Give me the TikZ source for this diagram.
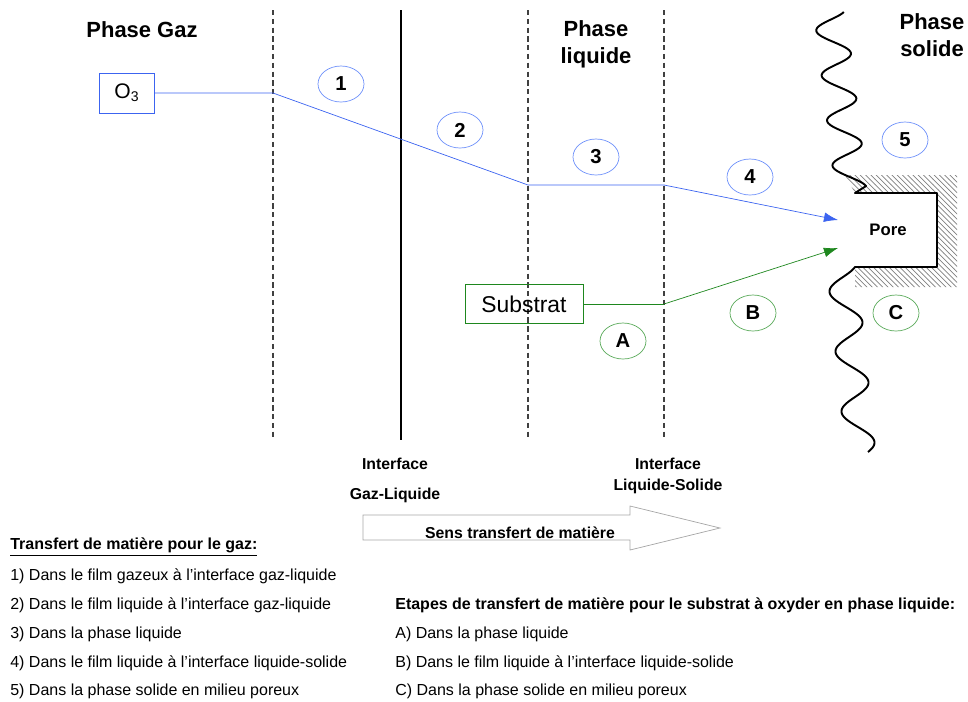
\documentclass[tikz,border=0pt]{standalone}
\usepackage{fontspec}
\setmainfont{Liberation Sans}
\usetikzlibrary{arrows.meta,shapes.geometric,patterns}
\definecolor{bleu}{RGB}{60,100,240}
\definecolor{bleuclair}{RGB}{110,145,250}
\definecolor{vert}{RGB}{30,135,30}
\definecolor{vertclair}{RGB}{90,170,90}

\begin{document}
\begin{tikzpicture}[x=0.02cm,y=-0.02cm,
    titre/.style={font=\fontsize{12.5}{15.5}\selectfont\bfseries, align=center},
    interf/.style={font=\fontsize{9}{12}\selectfont\bfseries, align=center},
    bulle/.style={ellipse, draw, minimum width=0.92cm, minimum height=0.72cm, inner sep=0pt,
      font=\fontsize{11.5}{12}\selectfont\bfseries},
    bullegaz/.style={bulle, draw=bleuclair},
    bullesub/.style={bulle, draw=vertclair},
    film/.style={black!75, dash pattern=on 3pt off 2pt, line width=0.6pt},
    legende/.style={anchor=west, font=\fontsize{9.1}{10}\selectfont, inner sep=0pt},
    fleche/.style={-{Latex[length=8pt,width=5.5pt]}}]
  \useasboundingbox (0,0) rectangle (968,701);

  % phases
  \node[titre] (gaz) at (142,30) {Phase Gaz};
  \node[titre] (liquide) at (596,44) {Phase\\liquide};
  \node[titre] (solide) at (932,35) {Phase\\solide};

  % films et interface
  \draw[film] (273,10) -- (273,440);
  \draw[film] (528,10) -- (528,440);
  \draw[film] (664,10) -- (664,440);
  \draw[black, line width=1.2pt] (401,10) -- (401,440);

  % pore et phase solide
  \fill[pattern=north west lines, pattern color=gray]
    (845,175) -- (957,175) -- (957,287) -- (855,287) -- (855,267) -- (937,267)
    -- (937,193) -- (855,193) -- cycle;
  \draw[black, line width=1.1pt, line join=round]
    plot[domain=12:186, samples=120, smooth] ({830+0.12*(\x-12)+16*sin(8*(\x-12)+120)}, {\x})
    -- (855,193) -- (937,193) -- (937,267) -- (855,267)
    -- plot[domain=267:452, samples=120, smooth] ({842+0.1*(\x-267)+15*sin(6*(\x-267)+120)}, {\x});
  \node[font=\fontsize{9.5}{11}\selectfont\bfseries] (pore) at (888,230) {Pore};

  % gaz
  \node[draw=bleu, minimum width=1.1cm, minimum height=0.8cm, inner sep=0pt,
    font=\fontsize{12}{14}\selectfont] (o3) at (127,93) {O\textsubscript{3}};
  \coordinate (g1) at (273,93);
  \coordinate (g2) at (528,185);
  \coordinate (g3) at (664,185);
  \coordinate (poreh) at (838,220);
  \draw[bleu] (o3.east) -- (g1) -- (g2) -- (g3);
  \draw[bleu, fleche] (g3) -- (poreh);

  % substrat
  \node[draw=vert, minimum width=2.36cm, minimum height=0.78cm, inner sep=0pt,
    font=\fontsize{13}{14}\selectfont] (sub) at (524,304) {Substrat};
  \coordinate (s1) at (664,304);
  \coordinate (poreb) at (838,248);
  \draw[vert] (sub.east) -- (s1);
  \draw[vert, fleche] (s1) -- (poreb);

  % etapes
  \node[bullegaz] (e1) at (341,84) {1};
  \node[bullegaz] (e2) at (460,130) {2};
  \node[bullegaz] (e3) at (596,157) {3};
  \node[bullegaz] (e4) at (750,177) {4};
  \node[bullegaz] (e5) at (905,140) {5};
  \node[bullesub] (ea) at (623,341) {A};
  \node[bullesub] (eb) at (753,313) {B};
  \node[bullesub] (ec) at (896,313) {C};

  % interfaces
  \node[interf] (igl) at (395,480) {Interface\\[5pt]Gaz-Liquide};
  \node[interf] (ils) at (668,476) {Interface\\Liquide-Solide};

  % sens du transfert
  \draw[gray!70] (363,515) -- (630,515) -- (630,506) -- (720,528) -- (630,550)
    -- (630,540) -- (363,540) -- cycle;
  \node[interf] (sens) at (520,533) {Sens transfert de matière};

  % legendes
  \node[legende, font=\fontsize{9.1}{10}\selectfont\bfseries] (lg0) at (10,547)
    {\underline{Transfert de matière pour le gaz:}};
  \node[legende] (lg1) at (10,576) {1) Dans le film gazeux à l’interface gaz-liquide};
  \node[legende] (lg2) at (10,605) {2) Dans le film liquide à l’interface gaz-liquide};
  \node[legende] (lg3) at (10,634) {3) Dans la phase liquide};
  \node[legende] (lg4) at (10,663) {4) Dans le film liquide à l’interface liquide-solide};
  \node[legende] (lg5) at (10,691) {5) Dans la phase solide en milieu poreux};
  \node[legende, font=\fontsize{9.1}{10}\selectfont\bfseries] (ls0) at (395,605)
    {Etapes de transfert de matière pour le substrat à oxyder en phase liquide:};
  \node[legende] (lsa) at (395,634) {A) Dans la phase liquide};
  \node[legende] (lsb) at (395,663) {B) Dans le film liquide à l’interface liquide-solide};
  \node[legende] (lsc) at (395,691) {C) Dans la phase solide en milieu poreux};
\end{tikzpicture}
\end{document}
